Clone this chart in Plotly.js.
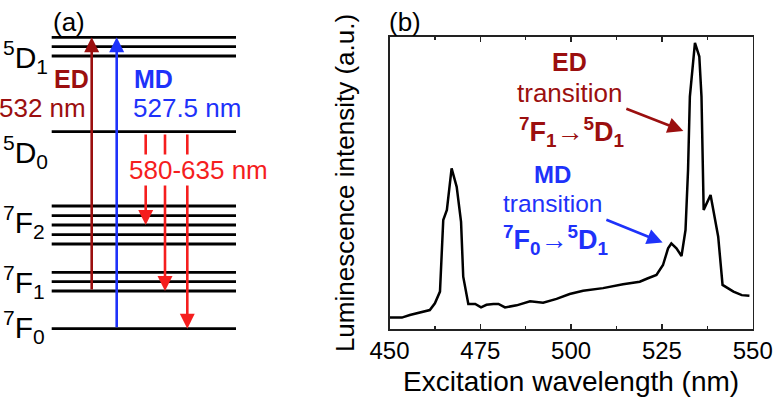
<!DOCTYPE html>
<html><head><meta charset="utf-8">
<script src="https://cdn.plot.ly/plotly-3.0.1.min.js"></script>
<style>html,body{margin:0;padding:0;background:#fff}#chart{width:773px;height:398px}</style>
</head><body><div id="chart"></div><script>
// ---------- panel (b): excitation spectrum ----------
const wavelength = [450.0,453.4,455.6,461.1,462.5,463.9,464.8,465.8,467.1,468.5,469.7,470.3,471.7,473.6,475.2,476.7,478.6,480.0,481.8,485.0,488.7,492.3,496.0,499.6,503.3,508.8,514.3,518.9,521.0,523.5,525.3,526.7,527.6,529.0,530.4,531.5,532.2,532.7,534.1,535.3,535.9,536.2,536.5,538.4,540.5,541.7,544.7,547.0,549.1];
const intensity  = [0.039,0.039,0.048,0.065,0.088,0.128,0.373,0.408,0.550,0.487,0.367,0.179,0.086,0.086,0.074,0.083,0.086,0.086,0.074,0.081,0.095,0.090,0.103,0.120,0.131,0.140,0.153,0.162,0.173,0.185,0.219,0.276,0.293,0.276,0.250,0.339,0.545,0.796,0.980,0.933,0.796,0.545,0.408,0.459,0.316,0.151,0.128,0.116,0.114];
const xTickVals = [450,475,500,525,550];
const xTickText = ['450','475','500','525','550'];
// annotation arrows (tail -> head) in data units
const edArrowNm = [514.8, 530.9], edArrowI = [0.756, 0.678];
const mdArrowNm = [509.3, 525.2], mdArrowI = [0.376, 0.296];

// ---------- panel (a): energy levels (arbitrary energy units) ----------
const levels5D1 = [291.4, 282.0, 272.7];
const levels5D0 = [197.0];
const levels7F2 = [122.7, 113.0, 103.7, 94.0, 84.7];
const levels7F1 = [56.4, 47.0, 37.7];
const levels7F0 = [0.0];
const levelLabels = ['<sup>5</sup>D<sub>1</sub>','<sup>5</sup>D<sub>0</sub>','<sup>7</sup>F<sub>2</sub>','<sup>7</sup>F<sub>1</sub>','<sup>7</sup>F<sub>0</sub>'];
const labelEnergy = [272.0, 177.0, 107.0, 47.0, 2.0];
// transitions: [from, to]
const edTransition = [37.7, 291.4];
const mdTransition = [0.0, 291.4];
const emissionFrom = [195.7, 195.7, 195.7];
const emissionTo   = [103.7, 37.7, 0.0];

const W = 773, H = 398;
const FONT = '"Liberation Sans", Arial, sans-serif';
const DARKRED = '#9B0F0F', BLUE = '#1E32FA', RED = '#F51E1E';
const px = x => x / W, py = y => 1 - y / H;

// level line segments
const allLevels = [].concat(levels5D1, levels5D0, levels7F2, levels7F1, levels7F0);
const lvX = [], lvY = [];
allLevels.forEach(e => { lvX.push(51.7, 236, null); lvY.push(e, e, null); });

const traces = [
  {x: lvX, y: lvY, xaxis: 'x', yaxis: 'y', mode: 'lines', line: {color: '#000', width: 2.8}, hoverinfo: 'skip', showlegend: false},
  {x: wavelength, y: intensity, xaxis: 'x2', yaxis: 'y2', mode: 'lines', line: {color: '#000', width: 2.5}, showlegend: false}
];

function arrow(xr, yr, x, y, ax, ay, color, w, size) {
  return {xref: xr, yref: yr, axref: xr, ayref: yr, x: x, y: y, ax: ax, ay: ay, text: '', showarrow: true,
          arrowhead: 2, arrowsize: size, arrowwidth: w, arrowcolor: color, standoff: 0, startstandoff: 0};
}
function txt(x, y, text, size, color, xanchor, extra) {
  return Object.assign({xref: 'paper', yref: 'paper', x: px(x), y: py(y), text: text, showarrow: false,
          xanchor: xanchor || 'center', yanchor: 'middle', font: {family: FONT, size: size, color: color}}, extra || {});
}

const ann = [];
// vertical transitions panel (a)
const arrowXs = [91.7, 116.7, 145.7, 165.0, 187.3];
ann.push(arrow('x', 'y', arrowXs[0], edTransition[1], arrowXs[0], edTransition[0], DARKRED, 2.6, 1.15));
ann.push(arrow('x', 'y', arrowXs[1], mdTransition[1], arrowXs[1], mdTransition[0], BLUE, 2.6, 1.15));
emissionTo.forEach((e, i) => ann.push(arrow('x', 'y', arrowXs[2 + i], e, arrowXs[2 + i], emissionFrom[i], RED, 2.6, 1.15)));
// level labels
levelLabels.forEach((t, i) => ann.push({xref: 'paper', yref: 'y', x: px(1), y: labelEnergy[i], text: t, showarrow: false,
  xanchor: 'left', yanchor: 'middle', font: {family: FONT, size: 30, color: '#000'}}));
// text panel (a)
ann.push(txt(51, 22, '(a)', 26, '#000', 'left'));
ann.push(txt(52, 79, '<b>ED</b>', 25, DARKRED, 'left'));
ann.push(txt(88, 108, '532 nm', 26, DARKRED, 'right'));
ann.push(txt(132, 79, '<b>MD</b>', 25, BLUE, 'left'));
ann.push(txt(131, 108, '527.5 nm', 26, BLUE, 'left'));
ann.push(txt(128, 170, '580-635 nm', 26, RED, 'left', {bgcolor: '#fff', borderpad: 0}));
// text panel (b)
ann.push(txt(387, 22, '(b)', 26, '#000', 'left'));
ann.push(txt(569, 62, '<b>ED</b>', 25, DARKRED));
ann.push(txt(570, 93, 'transition', 26, DARKRED));
ann.push(txt(571, 132, '<b><sup>7</sup>F<sub>1</sub></b>→<b><sup>5</sup>D<sub>1</sub></b>', 27, DARKRED));
ann.push(txt(552, 175, '<b>MD</b>', 24, BLUE));
ann.push(txt(552, 203, 'transition', 24.5, BLUE));
ann.push(txt(555, 240, '<b><sup>7</sup>F<sub>0</sub></b>→<b><sup>5</sup>D<sub>1</sub></b>', 27, BLUE));
ann.push(arrow('x2', 'y2', edArrowNm[1], edArrowI[1], edArrowNm[0], edArrowI[0], DARKRED, 2.6, 1.2));
ann.push(arrow('x2', 'y2', mdArrowNm[1], mdArrowI[1], mdArrowNm[0], mdArrowI[0], BLUE, 2.6, 1.2));

const layout = {
  width: W, height: H, margin: {l: 0, r: 0, t: 0, b: 0},
  paper_bgcolor: '#fff', plot_bgcolor: 'rgba(0,0,0,0)', showlegend: false,
  font: {family: FONT, color: '#000'},
  xaxis: {domain: [0, 0.49], range: [0, 0.49 * W], visible: false, fixedrange: true},
  yaxis: {domain: [0, 1], range: [328.7 - H, 328.7], visible: false, fixedrange: true},
  xaxis2: {domain: [389.5 / W, 752.7 / W], range: [450, 550], anchor: 'y2',
    tickvals: xTickVals, ticktext: xTickText, ticks: 'inside', ticklen: 5, tickwidth: 1.5, tickcolor: '#222',
    minor: {dtick: 12.5, tick0: 450, ticks: 'inside', ticklen: 3, tickwidth: 1.5, tickcolor: '#222'},
    showline: true, linewidth: 1.6, linecolor: '#222', mirror: 'ticks', showgrid: false, zeroline: false,
    tickfont: {family: FONT, size: 24, color: '#000'},
    title: {text: 'Excitation wavelength (nm)', font: {family: FONT, size: 28, color: '#000'}, standoff: 8}},
  yaxis2: {domain: [1 - 329 / H, 1 - 37 / H], range: [0, 1], anchor: 'x2',
    showline: true, linewidth: 1.6, linecolor: '#222', mirror: true, ticks: '', showticklabels: false,
    showgrid: false, zeroline: false,
    title: {text: 'Luminescence intensity (a.u.)', font: {family: FONT, size: 26, color: '#000'}, standoff: 26}},
  annotations: ann
};
Plotly.newPlot('chart', traces, layout, {displayModeBar: false, staticPlot: true});
</script></body></html>
